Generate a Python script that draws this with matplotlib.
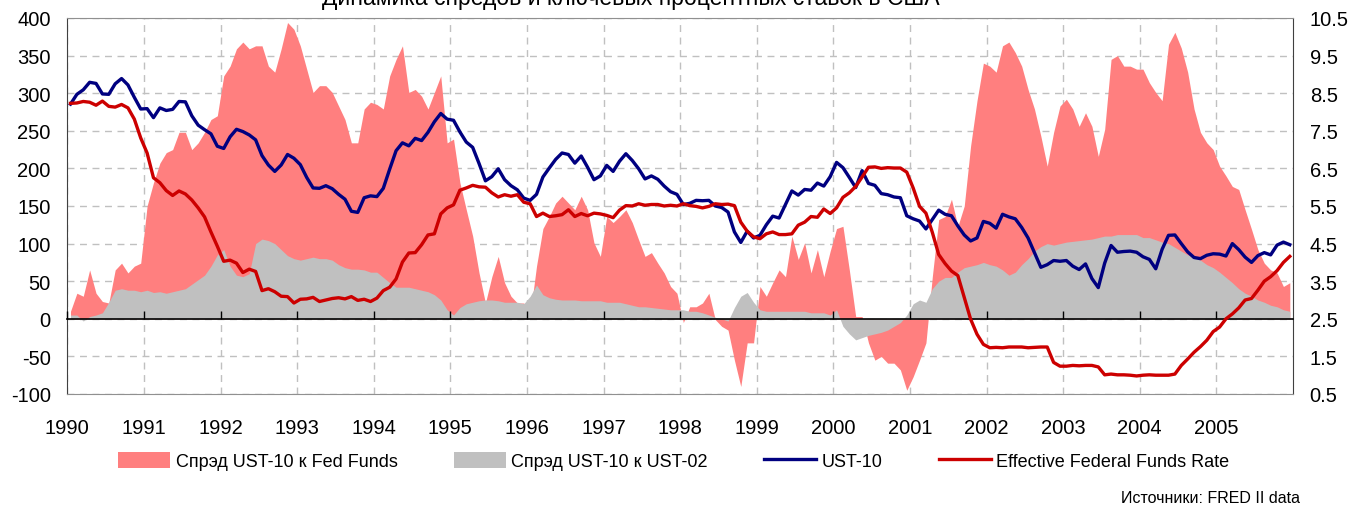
import numpy as np
import matplotlib
matplotlib.use("Agg")
import matplotlib.pyplot as plt
from matplotlib.ticker import FormatStrFormatter

plt.rcParams['font.family'] = ['Liberation Sans', 'DejaVu Sans']
plt.rcParams['axes.unicode_minus'] = False

years = list(range(1990, 2006))

# monthly values, Jan 1990 .. Dec 2005
ust10 = [
    8.21, 8.47, 8.59, 8.79, 8.76, 8.48, 8.47, 8.75, 8.89, 8.72, 8.39, 8.08,
    8.09, 7.85, 8.11, 8.04, 8.07, 8.28, 8.27, 7.90, 7.65, 7.53, 7.42, 7.09,
    7.03, 7.34, 7.54, 7.48, 7.39, 7.26, 6.84, 6.59, 6.42, 6.59, 6.87, 6.77,
    6.60, 6.26, 5.98, 5.97, 6.04, 5.96, 5.81, 5.68, 5.36, 5.33, 5.72, 5.77,
    5.75, 5.97, 6.48, 6.97, 7.18, 7.10, 7.30, 7.24, 7.46, 7.74, 7.96, 7.81,
    7.78, 7.47, 7.20, 7.06, 6.63, 6.17, 6.28, 6.49, 6.20, 6.04, 5.93, 5.71,
    5.65, 5.81, 6.27, 6.51, 6.74, 6.91, 6.87, 6.64, 6.83, 6.53, 6.20, 6.30,
    6.58, 6.42, 6.69, 6.89, 6.71, 6.49, 6.22, 6.30, 6.21, 6.03, 5.88, 5.81,
    5.54, 5.57, 5.65, 5.64, 5.65, 5.50, 5.46, 5.34, 4.81, 4.53, 4.83, 4.65,
    4.72, 5.00, 5.23, 5.18, 5.54, 5.90, 5.79, 5.94, 5.92, 6.11, 6.03, 6.28,
    6.66, 6.52, 6.26, 5.99, 6.44, 6.10, 6.05, 5.83, 5.80, 5.74, 5.72, 5.24,
    5.16, 5.10, 4.89, 5.14, 5.39, 5.28, 5.24, 4.97, 4.73, 4.57, 4.65, 5.09,
    5.04, 4.91, 5.28, 5.21, 5.16, 4.93, 4.65, 4.26, 3.87, 3.94, 4.05, 4.03,
    4.05, 3.90, 3.81, 3.96, 3.57, 3.33, 3.98, 4.45, 4.27, 4.29, 4.30, 4.27,
    4.15, 4.08, 3.83, 4.35, 4.72, 4.73, 4.50, 4.28, 4.13, 4.10, 4.19, 4.23,
    4.22, 4.17, 4.50, 4.34, 4.14, 4.00, 4.18, 4.26, 4.20, 4.46, 4.54, 4.47,
]

fed_funds = [
    8.23, 8.24, 8.28, 8.26, 8.18, 8.29, 8.15, 8.13, 8.20, 8.11, 7.81, 7.31,
    6.91, 6.25, 6.12, 5.91, 5.78, 5.90, 5.82, 5.66, 5.45, 5.21, 4.81, 4.43,
    4.03, 4.06, 3.98, 3.73, 3.82, 3.76, 3.25, 3.30, 3.22, 3.10, 3.09, 2.92,
    3.02, 3.03, 3.07, 2.96, 3.00, 3.04, 3.06, 3.03, 3.09, 2.99, 3.02, 2.96,
    3.05, 3.25, 3.34, 3.56, 4.01, 4.25, 4.26, 4.47, 4.73, 4.76, 5.29, 5.45,
    5.53, 5.92, 5.98, 6.05, 6.01, 6.00, 5.85, 5.74, 5.80, 5.76, 5.80, 5.60,
    5.56, 5.22, 5.31, 5.22, 5.24, 5.27, 5.40, 5.22, 5.30, 5.24, 5.31, 5.29,
    5.25, 5.19, 5.39, 5.51, 5.50, 5.56, 5.52, 5.54, 5.54, 5.50, 5.52, 5.50,
    5.56, 5.51, 5.49, 5.45, 5.49, 5.56, 5.54, 5.55, 5.51, 5.07, 4.83, 4.68,
    4.63, 4.76, 4.81, 4.74, 4.74, 4.76, 4.99, 5.07, 5.22, 5.20, 5.42, 5.30,
    5.45, 5.73, 5.85, 6.02, 6.27, 6.53, 6.54, 6.50, 6.52, 6.51, 6.51, 6.40,
    5.98, 5.49, 5.31, 4.80, 4.21, 3.97, 3.77, 3.65, 3.07, 2.49, 2.09, 1.82,
    1.73, 1.74, 1.73, 1.75, 1.75, 1.75, 1.73, 1.74, 1.75, 1.75, 1.34, 1.24,
    1.24, 1.26, 1.25, 1.26, 1.26, 1.22, 1.01, 1.03, 1.01, 1.01, 1.00, 0.98,
    1.00, 1.01, 1.00, 1.00, 1.00, 1.03, 1.26, 1.43, 1.61, 1.76, 1.93, 2.16,
    2.28, 2.50, 2.63, 2.79, 3.00, 3.04, 3.26, 3.50, 3.62, 3.78, 4.00, 4.16,
]

# spreads in basis points (left axis)
spread_ff = [
    10, 34, 30, 65, 34, 23, 21, 65, 74, 61, 70, 74,
    150, 181, 207, 221, 225, 248, 248, 225, 234, 248, 265, 270,
    323, 336, 359, 368, 359, 363, 363, 336, 328, 359, 394, 385,
    363, 332, 301, 310, 310, 301, 283, 265, 234, 234, 279, 288,
    285, 279, 323, 345, 363, 301, 305, 296, 279, 301, 323, 234,
    239, 181, 145, 110, 61, 21, 56, 83, 48, 30, 21, 21,
    5, 70, 120, 136, 154, 163, 154, 145, 163, 145, 101, 83,
    136, 128, 136, 145, 128, 105, 83, 88, 74, 61, 43, 34,
    -5, 16, 16, 21, 34, -1, -10, -15, -55, -90, -32, -32,
    43, 30, 48, 65, 56, 110, 79, 101, 61, 92, 56, 90,
    120, 123, 65, 3, 3, -32, -55, -50, -59, -59, -68, -95,
    -77, -55, -32, 56, 132, 136, 159, 123, 150, 230, 290, 340,
    336, 328, 363, 368, 354, 336, 305, 279, 243, 203, 248, 283,
    292, 279, 256, 274, 256, 216, 252, 345, 350, 336, 336, 332,
    332, 314, 301, 290, 365, 381, 360, 328, 279, 248, 234, 225,
    203, 190, 176, 172, 145, 119, 92, 74, 65, 61, 43, 48,
]

spread_2y = [
    5, 5, -3, 3, 5, 8, 22, 38, 40, 38, 38, 36,
    38, 35, 36, 34, 36, 38, 40, 46, 52, 58, 70, 85,
    92, 70, 58, 56, 60, 100, 106, 104, 100, 92, 84, 80,
    78, 80, 82, 80, 80, 78, 72, 68, 66, 66, 65, 62,
    62, 55, 48, 42, 42, 42, 40, 38, 36, 32, 25, 12,
    5, 15, 20, 22, 24, 25, 25, 24, 22, 22, 22, 20,
    30, 45, 32, 28, 26, 25, 25, 25, 24, 24, 24, 24,
    22, 22, 22, 20, 18, 16, 16, 15, 14, 13, 12, 12,
    12, 10, 10, 8, 5, 2, 0, -3, 15, 30, 35, 22,
    12, 10, 10, 10, 10, 10, 10, 10, 8, 8, 8, 5,
    12, -10, -20, -28, -25, -22, -20, -18, -15, -10, -5, 5,
    20, 25, 22, 40, 50, 55, 55, 62, 68, 70, 72, 75,
    72, 70, 65, 58, 62, 72, 80, 90, 96, 100, 98, 100,
    102, 103, 104, 105, 106, 108, 110, 110, 112, 112, 112, 112,
    108, 108, 105, 102, 100, 95, 90, 85, 82, 78, 72, 68,
    62, 55, 48, 40, 34, 30, 25, 22, 18, 16, 12, 10,
]

t = years[0] + (np.arange(len(ust10)) + 0.5) / 12

W, H = 1361, 506
fig = plt.figure(figsize=(W / 100, H / 100), dpi=100)
ax = fig.add_axes([67.3 / W, 1 - 395 / H, (1293 - 67.3) / W, 376 / H])

h_ff = ax.fill_between(t, 0, spread_ff, color='#FF7F7F', lw=0, zorder=2,
                       label='Спрэд UST-10 к Fed Funds')
h_2y = ax.fill_between(t, 0, spread_2y, color='#C0C0C0', lw=0, zorder=3,
                       label='Спрэд UST-10 к UST-02')

ax.set_xlim(1990, 2006)
ax.set_ylim(-100, 400)
ax.set_yticks(range(-100, 401, 50))
ax.set_xticks(years)
ax.set_xticklabels([str(y) for y in years])
ax.grid(True, color='#C0C0C0', ls=(0, (5, 4)), lw=1)
ax.set_axisbelow(True)
ax.tick_params(axis='both', length=0, labelsize=14.5)
ax.tick_params(axis='x', pad=17)
ax.tick_params(axis='y', pad=12)
for side in ['top', 'bottom']:
    ax.spines[side].set_color('#909090')
for side in ['left', 'right']:
    ax.spines[side].set_color('#404040')

# zero line with small year ticks
zero = ax.secondary_xaxis(0, transform=ax.transData)
zero.set_xticks(years)
zero.tick_params(direction='in', length=6, width=1, color='black', labelbottom=False)
zero.spines['bottom'].set_color('black')
zero.spines['bottom'].set_linewidth(1.2)
zero.set_zorder(5)

ax2 = ax.twinx()
ax2.set_ylim(0.5, 10.5)
ax2.set_yticks(np.arange(0.5, 10.6, 1))
ax2.yaxis.set_major_formatter(FormatStrFormatter('%.1f'))
ax2.tick_params(axis='y', length=0, labelsize=14.5, pad=12)
for s in ax2.spines.values():
    s.set_visible(False)

h_ust, = ax2.plot(t, ust10, color='#000080', lw=2.4, label='UST-10')
h_fed, = ax2.plot(t, fed_funds, color='#CC0000', lw=2.4,
                  label='Effective Federal Funds Rate')

fig.legend(handles=[h_ff, h_2y, h_ust, h_fed], loc='center left',
           bbox_to_anchor=(118 / W, 1 - 462 / H), ncol=4, frameon=False,
           fontsize=13, handlelength=2.9, handleheight=0.95, handletextpad=0.3,
           columnspacing=3.1, borderpad=0, borderaxespad=0)

fig.text(631 / W, 1 - 5 / H, 'Динамика спредов и ключевых процентных ставок в США',
         ha='center', va='baseline', fontsize=16.5)
fig.text(1300 / W, 1 - 499 / H, 'Источники: FRED II data', ha='right', va='center',
         fontsize=11.5)

fig.savefig('out.png', dpi=100)
